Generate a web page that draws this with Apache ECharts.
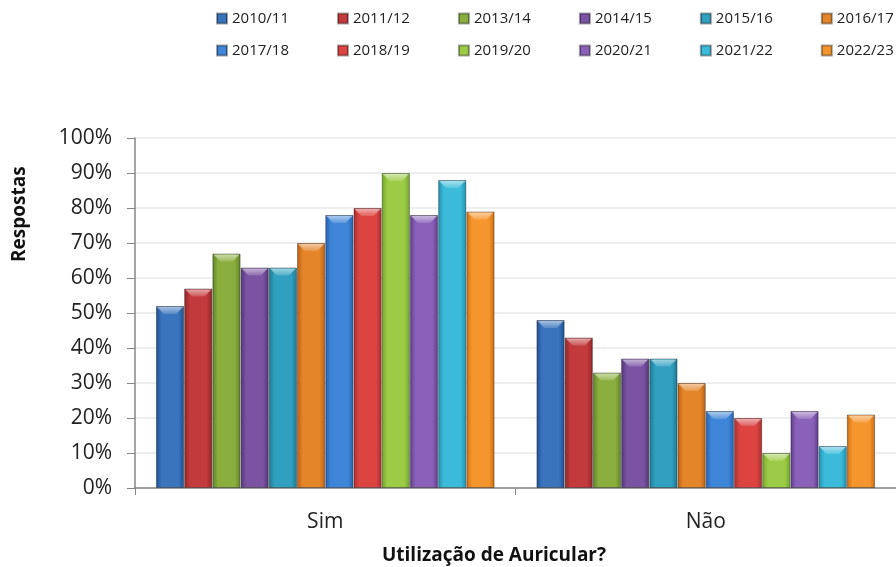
<!DOCTYPE html>
<html lang="pt">
<head>
<meta charset="UTF-8">
<title>Utilização de Auricular?</title>
<style>
    html, body { margin: 0; padding: 0; background: #fff; }
    #chart { width: 896px; height: 567px; }
</style>
<script src="https://cdn.jsdelivr.net/npm/echarts@6/dist/echarts.min.js"></script>
</head>
<body>
<div id="chart"></div>
<script>
    // dados
    var categorias = ['Sim', 'Não'];
    var anos = ['2010/11', '2011/12', '2013/14', '2014/15', '2015/16', '2016/17',
                '2017/18', '2018/19', '2019/20', '2020/21', '2021/22', '2022/23'];
    var sim = [52, 57, 67, 63, 63, 70, 78, 80, 90, 78, 88, 79];
    var nao = [48, 43, 33, 37, 37, 30, 22, 20, 10, 22, 12, 21];
    var yTicks = [0, 10, 20, 30, 40, 50, 60, 70, 80, 90, 100];

    // cores (escuras / claras) por série
    var cores = [
        ['#1f4f8f', '#3a74bd'], ['#8f2528', '#c23a3c'], ['#5f8228', '#8aae3e'],
        ['#523476', '#7a53a3'], ['#1f7690', '#2fa0bf'], ['#b95f14', '#e5852a'],
        ['#2260b0', '#3f86d8'], ['#a82e2f', '#dc4442'], ['#70a52a', '#9ccb45'],
        ['#5d3c8c', '#8a61b8'], ['#1f8fb0', '#3bbbd9'], ['#cc6d10', '#f5952d']
    ];

    var GAP = 0.11; // barCategoryGap

    function grad(c) {
        return {
            type: 'linear', x: 0, y: 0, x2: 1, y2: 0,
            colorStops: [
                { offset: 0, color: c[0] },
                { offset: 0.2, color: c[1] },
                { offset: 0.5, color: c[1] },
                { offset: 0.8, color: c[1] },
                { offset: 1, color: c[0] }
            ]
        };
    }

    var FONT = 'Open Sans';
    var chart = echarts.init(document.getElementById('chart'));

    var series = anos.map(function (ano, i) {
        return {
            name: ano,
            type: 'bar',
            barGap: '0%',
            barCategoryGap: (GAP * 100) + '%',
            data: [sim[i], nao[i]],
            itemStyle: {
                color: grad(cores[i]),
                borderColor: 'rgba(0,0,0,0.35)',
                borderWidth: 1
            },
            emphasis: { disabled: true }
        };
    });

    // brilho no topo das barras (efeito bisel)
    var topos = [];
    anos.forEach(function (ano, i) {
        topos.push([0, sim[i], i]);
        topos.push([1, nao[i], i]);
    });
    series.push({
        type: 'custom',
        z: 3,
        silent: true,
        data: topos,
        renderItem: function (params, api) {
            var c = api.coord([api.value(0), api.value(1)]);
            var cw = api.size([1, 0])[0];
            var grp = cw * (1 - GAP);
            var bw = grp / anos.length;
            var x0 = c[0] - grp / 2 + api.value(2) * bw + 1;
            var x1 = x0 + bw - 2;
            var y = c[1] + 1;
            var b = 7;
            return {
                type: 'polygon',
                shape: { points: [[x0, y], [x1, y], [x1 - b, y + b], [x0 + b, y + b]] },
                style: {
                    fill: {
                        type: 'linear', x: 0, y: 0, x2: 0, y2: 1,
                        colorStops: [
                            { offset: 0, color: 'rgba(255,255,255,0.55)' },
                            { offset: 1, color: 'rgba(255,255,255,0.15)' }
                        ]
                    }
                }
            };
        }
    });

    var legendBase = {
        orient: 'horizontal',
        left: 216,
        width: 740,
        padding: 0,
        icon: 'rect',
        itemWidth: 10,
        itemHeight: 10,
        itemGap: 48,
        textStyle: { fontFamily: FONT, fontSize: 15, color: '#222' }
    };

    chart.setOption({
        animation: false,
        textStyle: { fontFamily: FONT },
        legend: [
            Object.assign({}, legendBase, { top: 11, data: anos.slice(0, 6) }),
            Object.assign({}, legendBase, { top: 43, data: anos.slice(6) })
        ],
        grid: { left: 135, top: 138, width: 768, height: 350, containLabel: false },
        xAxis: {
            type: 'category',
            data: categorias,
            axisLine: { lineStyle: { color: '#868686', width: 1.5 } },
            axisTick: { show: true, length: 7, lineStyle: { color: '#868686' } },
            axisLabel: { fontFamily: FONT, fontSize: 21, color: '#222', margin: 24 }
        },
        yAxis: {
            type: 'value',
            min: 0,
            max: 100,
            interval: 10,
            axisLine: { show: true, lineStyle: { color: '#868686', width: 1.5 } },
            axisTick: { show: true, inside: false, length: 8, lineStyle: { color: '#868686' } },
            splitLine: { lineStyle: { color: '#e8e8e8', width: 1.5 } },
            axisLabel: {
                fontFamily: FONT, fontSize: 21, color: '#222', margin: 23,
                formatter: function (v) { return yTicks.indexOf(v) >= 0 ? v + '%' : ''; }
            }
        },
        graphic: [
            {
                type: 'text', x: 494, y: 556,
                style: {
                    text: 'Utilização de Auricular?', font: 'bold 19px "Open Sans"', fill: '#111',
                    textAlign: 'center', textVerticalAlign: 'middle'
                }
            },
            {
                type: 'text', x: 10, y: 262, rotation: Math.PI / 2,
                style: {
                    text: 'Respostas', font: 'bold 19px "Open Sans"', fill: '#111',
                    textAlign: 'left', textVerticalAlign: 'top'
                }
            }
        ],
        series: series
    });
</script>
</body>
</html>
